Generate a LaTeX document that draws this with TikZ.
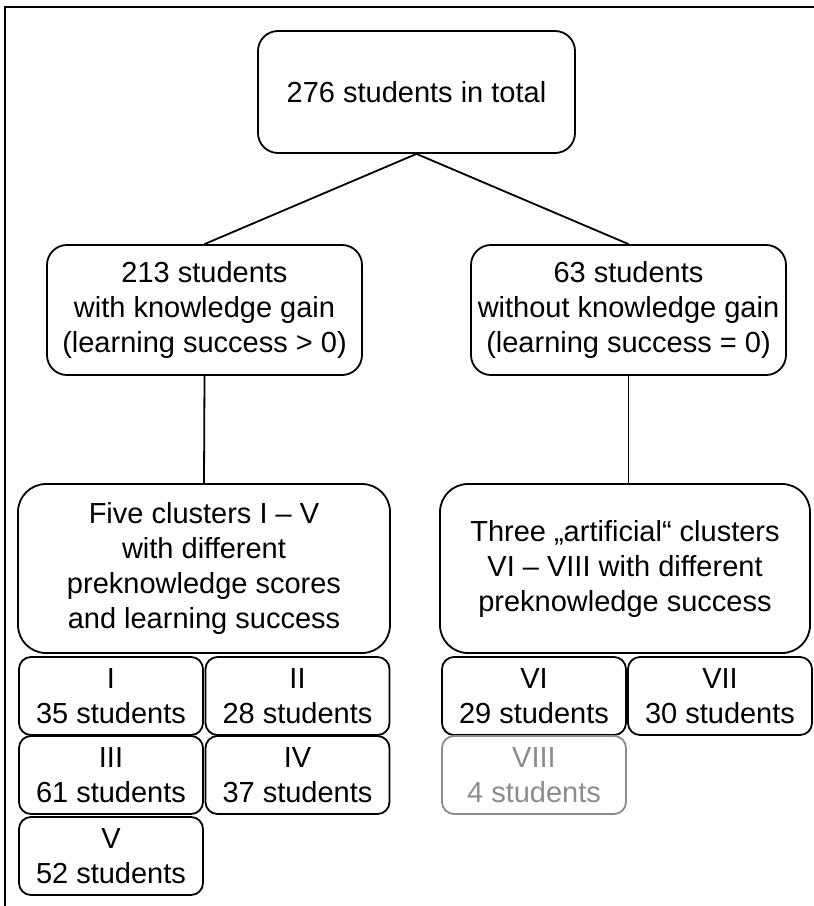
\documentclass[tikz,border=0pt]{standalone}
\usepackage{fontspec}
\setmainfont{Liberation Sans}
\usepackage{tikz}

\tikzset{
  box/.style={draw, rounded corners=#1, line width=0.9pt, align=center,
    inner sep=0pt, font=\fontsize{14.5}{17.5}\selectfont},
  box/.default=6pt,
  small/.style={box=6pt, minimum width=92pt, minimum height=39pt},
  faded/.style={draw=black!45, text=black!45},
  link/.style={line width=0.9pt}
}

\begin{document}
\begin{tikzpicture}[x=0.5pt, y=-0.5pt]
%\draw[help lines] (0,0) grid[step=50] (814,906);
\useasboundingbox (0,0) rectangle (814,906);

 \draw[line width=1pt] (814,7) -- (5,7) -- (5,906);

 \node[box=10pt, minimum width=158.5pt, minimum height=61pt] (total) at (416.5,92) {276 students in total};

 \node[box=10pt, minimum width=157.5pt, minimum height=65pt] (gain) at (204.5,310)
   {213 students\\with knowledge gain\\(learning success > 0)};
 \node[box=10pt, minimum width=157.5pt, minimum height=65pt] (nogain) at (628.5,310)
   {63 students\\without knowledge gain\\(learning success = 0)};

 \node[box=14pt, minimum width=186pt, minimum height=84.5pt] (five) at (204,568.5)
   {Five clusters I -- V\\with different\\preknowledge scores\\and learning success};
 \node[box=14pt, minimum width=185pt, minimum height=84.5pt] (three) at (625,568.5)
   {Three „artificial“ clusters\\VI -- VIII with different\\preknowledge success};

 \node[small] (c1) at (111,696) {I\\35 students};
 \node[small] (c2) at (297.5,696) {II\\28 students};
 \node[small] (c3) at (111,775) {III\\61 students};
 \node[small] (c4) at (297.5,775) {IV\\37 students};
 \node[small] (c5) at (111,856) {V\\52 students};

 \node[small] (c6) at (534,696) {VI\\29 students};
 \node[small] (c7) at (720,696) {VII\\30 students};
 \node[small, faded] (c8) at (534,775) {VIII\\4 students};

 \draw[link] (total.south) -- (gain.north);
 \draw[link] (total.south) -- (nogain.north);
 \draw[link] (gain.south) -- (five.north);
 \draw[link] (nogain.south) -- (nogain.south |- three.north);

\end{tikzpicture}
\end{document}
